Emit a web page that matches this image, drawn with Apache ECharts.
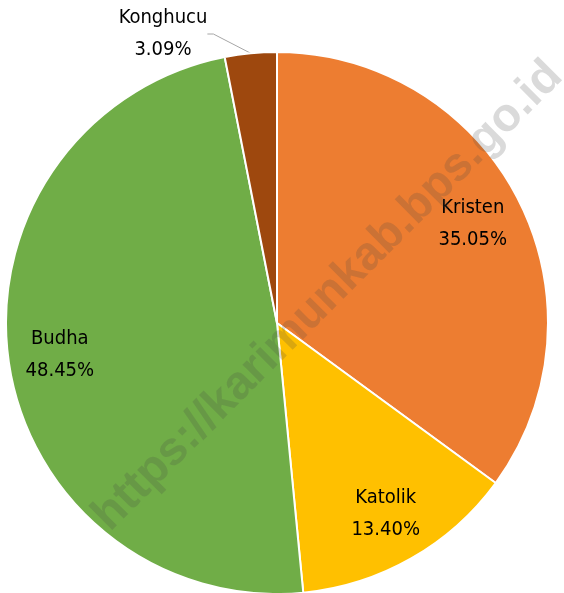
<!DOCTYPE html>
<html>
<head>
<meta charset="utf-8">
<script src="https://cdn.jsdelivr.net/npm/echarts@6/dist/echarts.min.js"></script>
<style>
  html, body { margin: 0; padding: 0; background: #fff; }
  #main { width: 564px; height: 593px; }
</style>
</head>
<body>
<div id="main"></div>
<script>
// agama (persen)
var categories = ['Kristen', 'Katolik', 'Budha', 'Konghucu'];
var values = [35.05, 13.40, 48.45, 3.09];
var colors = ['#ED7D31', '#FFC000', '#70AD47', '#9E480E'];

var labelFont = '"Liberation Sans Narrow", "DejaVu Sans Condensed", sans-serif';

function fmt(p) {
  return p.name + '\n' + p.value.toFixed(2) + '%';
}

var pieData = [];
var labelData = [];
for (var i = 0; i < categories.length; i++) {
  var outside = categories[i] === 'Konghucu';
  pieData.push({
    name: categories[i],
    value: values[i],
    itemStyle: { color: colors[i] },
    label: { show: outside },
    labelLine: { show: outside }
  });
  labelData.push({
    name: categories[i],
    value: values[i],
    label: { show: !outside }
  });
}

var myChart = echarts.init(document.getElementById('main'));
myChart.setOption({
  animation: false,
  series: [
    {
      type: 'pie',
      center: [277, 323],
      radius: [0, 271],
      startAngle: 90,
      clockwise: true,
      data: pieData,
      itemStyle: { borderColor: '#fff', borderWidth: 2 },
      label: {
        position: 'outside',
        formatter: fmt,
        color: '#000',
        fontFamily: labelFont,
        fontSize: 20,
        lineHeight: 32
      },
      labelLine: {
        length: 30,
        length2: 6,
        lineStyle: { color: '#a6a6a6', width: 1 }
      },
      // put the Konghucu label up-left like the original
      labelLayout: function (params) {
        if (params.dataIndex === 3) {
          return { x: 163, y: 34, align: 'center', verticalAlign: 'middle' };
        }
      },
      emphasis: { disabled: true }
    },
    {
      // transparent ring only to place the inside labels further out
      type: 'pie',
      center: [277, 323],
      radius: [162, 271],
      startAngle: 90,
      clockwise: true,
      silent: true,
      data: labelData,
      itemStyle: { color: 'rgba(0,0,0,0)' },
      label: {
        position: 'inside',
        formatter: fmt,
        color: '#000',
        fontFamily: labelFont,
        fontSize: 20,
        lineHeight: 32
      },
      labelLine: { show: false },
      emphasis: { disabled: true }
    }
  ],
  graphic: [
    {
      type: 'text',
      x: 328,
      y: 296,
      rotation: Math.PI / 4,
      z: 100,
      style: {
        text: 'https://karimunkab.bps.go.id',
        fontFamily: '"Liberation Sans", Arial, sans-serif',
        fontWeight: 'bold',
        fontSize: 47,
        fill: 'rgba(70,70,70,0.2)',
        align: 'center',
        verticalAlign: 'middle'
      }
    }
  ]
});
</script>
</body>
</html>
